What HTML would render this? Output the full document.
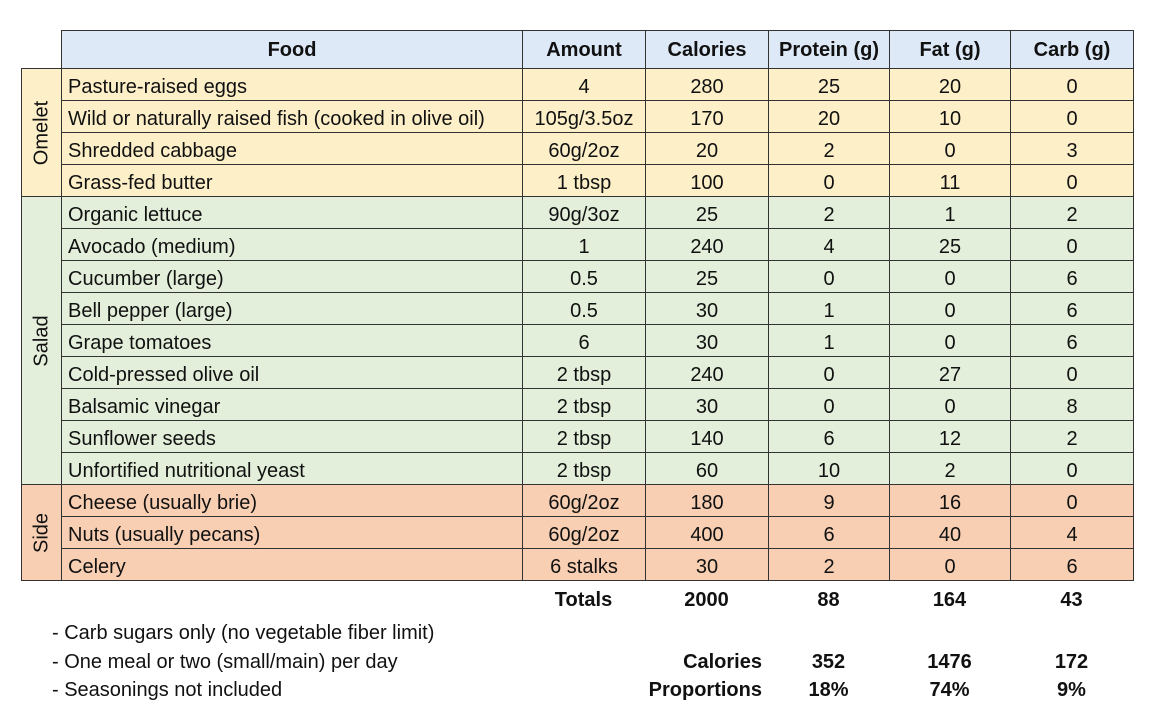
<!DOCTYPE html>
<html><head><meta charset="utf-8"><style>
body{margin:0;width:1149px;height:720px;background:#fff;font-family:"Liberation Sans",sans-serif;font-size:20px;color:#111;position:relative;overflow:hidden}
table{position:absolute;left:61px;top:30px;border-collapse:collapse;table-layout:fixed}
td,th{border:1px solid #333;height:31px;padding:0;white-space:nowrap;box-sizing:border-box}
td{height:32px;padding-top:4px;line-height:26px}
th{height:38px;padding-top:2px;background:#dde9f7;font-weight:bold}
td{text-align:center}
td.f{text-align:left;padding-left:6px}
tr.o td{background:#fdf0c9}
tr.s td{background:#e3efda}
tr.d td{background:#f8cfb3}
.g{position:absolute;left:21px;width:40px;border:1px solid #333;border-right:none;box-sizing:border-box}
.g span{position:absolute;left:50%;top:50%;transform:translate(-50%,-50%) rotate(-90deg);white-space:nowrap}
.t{position:absolute;font-weight:bold;text-align:center}
.n{position:absolute;left:52px}
</style></head><body>
<div class="g" style="top:68px;height:129px;background:#fdf0c9"><span>Omelet</span></div>
<div class="g" style="top:196px;height:289px;background:#e3efda"><span>Salad</span></div>
<div class="g" style="top:484px;height:97px;background:#f8cfb3"><span>Side</span></div>
<table>
<colgroup><col style="width:461px"><col style="width:123px"><col style="width:123px"><col style="width:121px"><col style="width:121px"><col style="width:123px"></colgroup>
<tr><th>Food</th><th>Amount</th><th>Calories</th><th>Protein (g)</th><th>Fat (g)</th><th>Carb (g)</th></tr>
<tr class="o"><td class="f">Pasture-raised eggs</td><td>4</td><td>280</td><td>25</td><td>20</td><td>0</td></tr>
<tr class="o"><td class="f">Wild or naturally raised fish (cooked in olive oil)</td><td>105g/3.5oz</td><td>170</td><td>20</td><td>10</td><td>0</td></tr>
<tr class="o"><td class="f">Shredded cabbage</td><td>60g/2oz</td><td>20</td><td>2</td><td>0</td><td>3</td></tr>
<tr class="o"><td class="f">Grass-fed butter</td><td>1 tbsp</td><td>100</td><td>0</td><td>11</td><td>0</td></tr>
<tr class="s"><td class="f">Organic lettuce</td><td>90g/3oz</td><td>25</td><td>2</td><td>1</td><td>2</td></tr>
<tr class="s"><td class="f">Avocado (medium)</td><td>1</td><td>240</td><td>4</td><td>25</td><td>0</td></tr>
<tr class="s"><td class="f">Cucumber (large)</td><td>0.5</td><td>25</td><td>0</td><td>0</td><td>6</td></tr>
<tr class="s"><td class="f">Bell pepper (large)</td><td>0.5</td><td>30</td><td>1</td><td>0</td><td>6</td></tr>
<tr class="s"><td class="f">Grape tomatoes</td><td>6</td><td>30</td><td>1</td><td>0</td><td>6</td></tr>
<tr class="s"><td class="f">Cold-pressed olive oil</td><td>2 tbsp</td><td>240</td><td>0</td><td>27</td><td>0</td></tr>
<tr class="s"><td class="f">Balsamic vinegar</td><td>2 tbsp</td><td>30</td><td>0</td><td>0</td><td>8</td></tr>
<tr class="s"><td class="f">Sunflower seeds</td><td>2 tbsp</td><td>140</td><td>6</td><td>12</td><td>2</td></tr>
<tr class="s"><td class="f">Unfortified nutritional yeast</td><td>2 tbsp</td><td>60</td><td>10</td><td>2</td><td>0</td></tr>
<tr class="d"><td class="f">Cheese (usually brie)</td><td>60g/2oz</td><td>180</td><td>9</td><td>16</td><td>0</td></tr>
<tr class="d"><td class="f">Nuts (usually pecans)</td><td>60g/2oz</td><td>400</td><td>6</td><td>40</td><td>4</td></tr>
<tr class="d"><td class="f">Celery</td><td>6 stalks</td><td>30</td><td>2</td><td>0</td><td>6</td></tr>
</table>
<div class="t" style="left:522px;width:123px;top:589px">Totals</div>
<div class="t" style="left:645px;width:123px;top:589px">2000</div>
<div class="t" style="left:768px;width:121px;top:589px">88</div>
<div class="t" style="left:889px;width:121px;top:589px">164</div>
<div class="t" style="left:1010px;width:123px;top:589px">43</div>
<div class="n" style="top:622px">- Carb sugars only (no vegetable fiber limit)</div>
<div class="n" style="top:651px">- One meal or two (small/main) per day</div>
<div class="n" style="top:679px">- Seasonings not included</div>
<div class="t" style="left:580px;width:182px;text-align:right;top:651px">Calories</div>
<div class="t" style="left:580px;width:182px;text-align:right;top:679px">Proportions</div>
<div class="t" style="left:768px;width:121px;top:651px">352</div>
<div class="t" style="left:889px;width:121px;top:651px">1476</div>
<div class="t" style="left:1010px;width:123px;top:651px">172</div>
<div class="t" style="left:768px;width:121px;top:679px">18%</div>
<div class="t" style="left:889px;width:121px;top:679px">74%</div>
<div class="t" style="left:1010px;width:123px;top:679px">9%</div>
</body></html>
